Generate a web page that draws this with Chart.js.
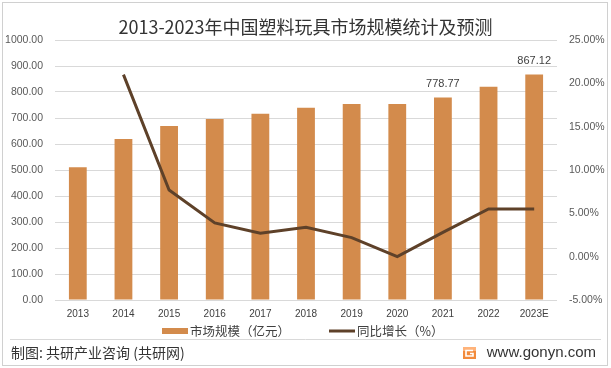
<!DOCTYPE html>
<html>
<head>
<meta charset="utf-8">
<script src="https://cdn.jsdelivr.net/npm/chart.js@4/dist/chart.umd.min.js"></script>
<style>
  html, body { margin: 0; padding: 0; background: #ffffff; }
  #wrap { width: 611px; height: 368px; position: relative; }
</style>
</head>
<body>
<div id="wrap"><canvas id="c" width="611" height="368"></canvas></div>
<script>
// ---- data ----
const categories = ['2013', '2014', '2015', '2016', '2017', '2018', '2019', '2020', '2021', '2022', '2023E'];
const marketSize = [511, 619, 669, 696, 716, 739, 754, 754, 778.77, 820, 867.12];
const growthRate = [null, 21.0, 7.7, 3.9, 2.7, 3.4, 2.2, 0.0, 2.8, 5.5, 5.5];
const labeledBars = ['2021', '2023E'];
const leftTicks = [0, 100, 200, 300, 400, 500, 600, 700, 800, 900, 1000];
const rightTicks = [-5, 0, 5, 10, 15, 20, 25];
const titleText = '2013-2023年中国塑料玩具市场规模统计及预测';
const seriesNames = ['市场规模（亿元）', '同比增长（%）'];
const sourceText = '制图: 共研产业咨询 (共研网)';
const siteText = 'www.gonyn.com';

const BAR = '#D38B4C';
const LINE = '#5E4129';
const GRID = '#D9D9D9';
const TXT = '#595959';
const NUMFONT = '"Liberation Sans", Arial, sans-serif';
const CJKFONT = '"Noto Sans CJK SC", "Noto Sans", sans-serif';

const decorPlugin = {
  id: 'decor',
  afterDatasetsDraw(chart) {
    const ctx = chart.ctx;
    const meta = chart.getDatasetMeta(0);
    ctx.save();
    ctx.font = '11px ' + NUMFONT;
    ctx.fillStyle = '#404040';
    ctx.textAlign = 'center';
    ctx.textBaseline = 'middle';
    meta.data.forEach((el, i) => {
      if (labeledBars.includes(categories[i])) {
        ctx.fillText(marketSize[i].toFixed(2), el.x, el.y - 14);
      }
    });
    ctx.restore();
  },
  afterDraw(chart) {
    const ctx = chart.ctx;
    ctx.save();
    // outer border
    ctx.strokeStyle = '#D0D0D0';
    ctx.lineWidth = 1;
    ctx.strokeRect(2.5, 2.5, 605, 363);
    // legend
    const ds = chart.data.datasets;
    const ly = 331;
    ctx.fillStyle = ds[0].backgroundColor;
    ctx.fillRect(162, ly - 3, 26, 6);
    ctx.font = '12.5px ' + CJKFONT;
    ctx.fillStyle = '#404040';
    ctx.textBaseline = 'middle';
    ctx.textAlign = 'left';
    ctx.fillText(ds[0].label, 190, ly);
    ctx.strokeStyle = ds[1].borderColor;
    ctx.lineWidth = 3;
    ctx.beginPath();
    ctx.moveTo(329, ly);
    ctx.lineTo(355, ly);
    ctx.stroke();
    ctx.fillText(ds[1].label, 357, ly);
    // separator
    ctx.strokeStyle = GRID;
    ctx.lineWidth = 1;
    ctx.beginPath();
    ctx.moveTo(10, 339.5);
    ctx.lineTo(601, 339.5);
    ctx.stroke();
    // footer
    ctx.font = '14px ' + CJKFONT;
    ctx.fillStyle = '#333333';
    ctx.fillText(sourceText, 11, 353);
    ctx.font = '15px ' + NUMFONT;
    ctx.textAlign = 'right';
    ctx.fillText(siteText, 596, 353);
    // logo
    const lx = 463, lyy = 347;
    ctx.fillStyle = '#F28B3C';
    ctx.fillRect(lx, lyy, 13, 12);
    ctx.fillStyle = '#FFB37A';
    ctx.fillRect(lx, lyy, 13, 4);
    ctx.strokeStyle = '#ffffff';
    ctx.lineWidth = 1.6;
    ctx.beginPath();
    ctx.moveTo(lx + 10, lyy + 3.5);
    ctx.lineTo(lx + 3, lyy + 3.5);
    ctx.lineTo(lx + 3, lyy + 9);
    ctx.lineTo(lx + 10, lyy + 9);
    ctx.lineTo(lx + 10, lyy + 6.5);
    ctx.lineTo(lx + 7, lyy + 6.5);
    ctx.stroke();
    ctx.restore();
  }
};

new Chart(document.getElementById('c'), {
  data: {
    labels: categories,
    datasets: [
      {
        type: 'bar',
        label: seriesNames[0],
        data: marketSize,
        backgroundColor: BAR,
        borderWidth: 0,
        categoryPercentage: 1.0,
        barPercentage: 0.39,
        yAxisID: 'y',
        order: 2
      },
      {
        type: 'line',
        label: seriesNames[1],
        data: growthRate,
        borderColor: LINE,
        backgroundColor: LINE,
        borderWidth: 3,
        pointRadius: 0,
        tension: 0,
        spanGaps: false,
        yAxisID: 'y1',
        order: 1
      }
    ]
  },
  options: {
    responsive: false,
    animation: false,
    devicePixelRatio: 1,
    layout: { padding: { left: 0, right: 0, top: 0, bottom: 40 } },
    plugins: {
      legend: { display: false },
      tooltip: { enabled: false },
      title: {
        display: true,
        text: titleText,
        color: '#333333',
        font: { family: CJKFONT, size: 18, weight: 'normal', lineHeight: 1.2 },
        padding: { top: 16, bottom: 2.4 }
      }
    },
    scales: {
      x: {
        grid: { display: false, drawTicks: false },
        border: { display: false },
        ticks: {
          color: '#404040',
          font: { family: NUMFONT, size: 10 },
          padding: 8,
          maxRotation: 0,
          autoSkip: false
        }
      },
      y: {
        position: 'left',
        min: 0,
        max: 1000,
        afterBuildTicks(scale) { scale.ticks = leftTicks.map(v => ({ value: v })); },
        afterFit(scale) { scale.width = 55; },
        grid: { color: GRID, lineWidth: 1, drawTicks: false },
        border: { display: false },
        ticks: {
          color: TXT,
          font: { family: NUMFONT, size: 10.5 },
          padding: 12,
          callback: v => Number(v).toFixed(2)
        }
      },
      y1: {
        position: 'right',
        min: -5,
        max: 25,
        afterBuildTicks(scale) { scale.ticks = rightTicks.map(v => ({ value: v })); },
        afterFit(scale) { scale.width = 54; },
        grid: { display: false, drawTicks: false },
        border: { display: false },
        ticks: {
          color: TXT,
          font: { family: NUMFONT, size: 10.5 },
          padding: 12,
          callback: v => Number(v).toFixed(2) + '%'
        }
      }
    }
  },
  plugins: [decorPlugin]
});
</script>
</body>
</html>
